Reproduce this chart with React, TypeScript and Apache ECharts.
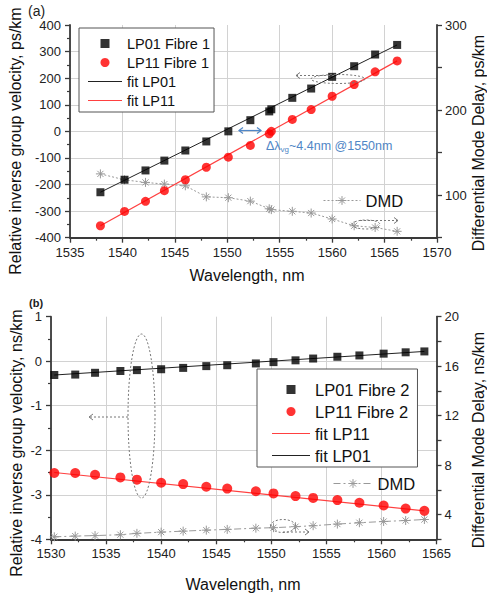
import React, { useEffect, useRef } from "react";
import * as echarts from "echarts";

// ---------- Panel (a) data ----------
const wavelengthA = [1537.9, 1540.2, 1542.2, 1544.0, 1546.0, 1548.0, 1550.1, 1552.2, 1554.0, 1554.2, 1556.2, 1558.0, 1560.0, 1562.1, 1564.1, 1566.2];
const lp01FibreA = [-229, -182, -147, -110, -72, -38, 0, 42, 75, 83, 126, 161, 205, 245, 289, 325];
const lp11FibreA = [-355, -301, -263, -223, -182, -135, -97, -53, -9, 0, 45, 82, 132, 176, 224, 265];
const dmdA = [125, 118, 115, 113, 111, 98, 97, 93, 84, 83, 81, 79, 72, 64, 62, 57.5];
const fitLP01A = [[1537.9, -229], [1566.2, 325]];
const fitLP11A = [[1537.9, -355], [1566.2, 265]];

// ---------- Panel (b) data ----------
const wavelengthB = [1530.3, 1532.2, 1534.0, 1536.3, 1537.8, 1540.0, 1542.0, 1544.1, 1546.0, 1548.6, 1550.2, 1552.2, 1553.8, 1556.0, 1558.0, 1560.2, 1562.2, 1563.9];
const lp01FibreB = [-0.31, -0.30, -0.26, -0.22, -0.20, -0.18, -0.15, -0.11, -0.09, -0.05, -0.02, 0.02, 0.06, 0.10, 0.13, 0.17, 0.20, 0.22];
const lp11FibreB = [-2.51, -2.51, -2.55, -2.61, -2.66, -2.73, -2.76, -2.82, -2.86, -2.92, -2.97, -3.03, -3.07, -3.12, -3.18, -3.24, -3.31, -3.36];
const dmdB = [2.2, 2.26, 2.3, 2.37, 2.48, 2.58, 2.66, 2.74, 2.8, 2.9, 2.94, 3.02, 3.1, 3.23, 3.34, 3.44, 3.52, 3.6];
const fitLP01B = [[1530.3, -0.31], [1563.9, 0.22]];
const fitLP11B = [[1530.3, -2.5], [1563.9, -3.36]];

const pairs = (xs: number[], ys: number[]) => xs.map((x, i) => [x, ys[i]]);

const FONT = "'Liberation Sans', Arial, Helvetica, sans-serif";
const AXIS_C = "#3a3a3a";
const ASTERISK = "path://M0,5L10,5M5,0L5,10M1.6,1.6L8.4,8.4M8.4,1.6L1.6,8.4";
const SQUARE = "path://M0,0L1,0L1,1L0,1Z";
const BAR = "path://M0,0L100,0L100,3L0,3Z";

const axisLine = { show: true, onZero: false, lineStyle: { color: AXIS_C, width: 1.8 } };
const axisTick = { show: true, inside: false, length: 5, lineStyle: { color: AXIS_C, width: 1.3 } };
const minorTick = { show: true, splitNumber: 2, length: 3, lineStyle: { color: AXIS_C, width: 1.2 } };
const splitLine = { show: true, showMaxLine: false, lineStyle: { color: "#d2d2d2", width: 1 } };
const label = { fontSize: 13, color: "#222", fontFamily: FONT, margin: 8, formatter: (v: number) => String(v) };

const dotted = { stroke: "#777", lineWidth: 1, lineDash: [2, 2], fill: "none" };
const solidArrow = { stroke: "#777", lineWidth: 1, fill: "none" };
const BLUE = "#4f86c6";

export default function App() {
  const ref = useRef<HTMLDivElement>(null);
  useEffect(() => {
    const chart = echarts.init(ref.current as HTMLDivElement, null, { renderer: "svg" });
    const option: any = {
      animation: false,
      backgroundColor: "#fff",
      textStyle: { fontFamily: FONT },
      grid: [
        { left: 70, top: 25, width: 367, height: 212.7, outerBoundsMode: "none", containLabel: false },
        { left: 51, top: 316.7, width: 385.5, height: 222.6, outerBoundsMode: "none", containLabel: false },
      ],
      xAxis: [
        { type: "value", gridIndex: 0, min: 1535, max: 1570, interval: 5, axisLine, axisTick, minorTick, splitLine, axisLabel: label },
        { type: "value", gridIndex: 1, min: 1530, max: 1565, interval: 5, axisLine, axisTick, minorTick, splitLine, axisLabel: label },
      ],
      yAxis: [
        { type: "value", gridIndex: 0, position: "left", min: -400, max: 400, interval: 100, axisLine, axisTick, minorTick, splitLine, axisLabel: { ...label, margin: 9 } },
        {
          type: "value", gridIndex: 0, position: "right", min: 50, max: 300, interval: 50, axisLine, axisTick,
          splitLine: { show: false },
          axisLabel: { ...label, margin: 8, formatter: (v: number) => (v % 100 === 0 ? String(v) : "") },
        },
        { type: "value", gridIndex: 1, position: "left", min: -4, max: 1, interval: 1, axisLine, axisTick, minorTick, splitLine, axisLabel: { ...label, margin: 9 } },
        {
          type: "value", gridIndex: 1, position: "right", min: 2, max: 20, interval: 2, axisLine, axisTick,
          splitLine: { show: false },
          axisLabel: { ...label, margin: 8, formatter: (v: number) => (v % 4 === 0 ? String(v) : "") },
        },
      ],
      legend: [
        {
          orient: "vertical", left: 79, top: 28, selectedMode: false,
          backgroundColor: "#fff", borderColor: "#555", borderWidth: 1,
          padding: [8, 4, 4, 9], itemWidth: 34, itemHeight: 9, itemGap: 4,
          textStyle: { fontSize: 14.5, lineHeight: 14, color: "#111", fontFamily: FONT },
          data: [
            { name: "LP01 Fibre 1", icon: SQUARE, itemStyle: { color: "#000", borderWidth: 0 } },
            { name: "LP11 Fibre 1", icon: "circle", itemStyle: { color: "#ff0000", borderWidth: 0 } },
            { name: "fit LP01", icon: BAR, itemStyle: { color: "#222", borderWidth: 0 } },
            { name: "fit LP11", icon: BAR, itemStyle: { color: "#ff4040", borderWidth: 0 } },
          ],
        },
        {
          orient: "vertical", left: 323, top: 192, selectedMode: false, padding: 0,
          itemWidth: 37, itemHeight: 11,
          textStyle: { fontSize: 16.5, color: "#111", fontFamily: FONT },
          itemStyle: { color: "none", borderColor: "#999", borderWidth: 1 },
          lineStyle: { width: 1 },
          data: ["DMD"],
        },
        {
          orient: "vertical", left: 257, top: 369, selectedMode: false,
          backgroundColor: "#fff", borderColor: "#555", borderWidth: 1,
          padding: [12, 8, 3, 15], itemWidth: 38, itemHeight: 9, itemGap: 5,
          textStyle: { fontSize: 16.5, lineHeight: 16, color: "#111", fontFamily: FONT },
          formatter: (n: string) => n.trim(),
          data: [
            { name: "LP01 Fibre 2", icon: SQUARE, itemStyle: { color: "#000", borderWidth: 0 } },
            { name: "LP11 Fibre 2", icon: "circle", itemStyle: { color: "#ff0000", borderWidth: 0 } },
            { name: "fit LP11 ", icon: BAR, itemStyle: { color: "#ff4040", borderWidth: 0 } },
            { name: "fit LP01 ", icon: BAR, itemStyle: { color: "#222", borderWidth: 0 } },
          ],
        },
        {
          orient: "vertical", left: 333, top: 475, selectedMode: false, padding: 0,
          itemWidth: 39, itemHeight: 11,
          textStyle: { fontSize: 16.5, color: "#111", fontFamily: FONT },
          formatter: (n: string) => n.trim(),
          itemStyle: { color: "none", borderColor: "#999", borderWidth: 1 },
          lineStyle: { width: 1 },
          data: ["DMD "],
        },
      ],
      series: [
        // panel (a)
        { name: "fit LP01", type: "line", xAxisIndex: 0, yAxisIndex: 0, symbol: "none", data: fitLP01A, lineStyle: { color: "#222", width: 1 }, itemStyle: { color: "#222" }, z: 3 },
        { name: "fit LP11", type: "line", xAxisIndex: 0, yAxisIndex: 0, symbol: "none", data: fitLP11A, lineStyle: { color: "#ff4040", width: 1.2 }, itemStyle: { color: "#ff4040" }, z: 3 },
        {
          name: "DMD", type: "line", xAxisIndex: 0, yAxisIndex: 1, symbol: ASTERISK, symbolSize: 9,
          data: pairs(wavelengthA, dmdA),
          lineStyle: { color: "#999", width: 1, type: [2, 2] },
          itemStyle: { color: "none", borderColor: "#999", borderWidth: 1 }, z: 2,
        },
        { name: "LP01 Fibre 1", type: "scatter", xAxisIndex: 0, yAxisIndex: 0, symbol: "rect", symbolSize: 8, data: pairs(wavelengthA, lp01FibreA), itemStyle: { color: "#000" }, z: 5 },
        { name: "LP11 Fibre 1", type: "scatter", xAxisIndex: 0, yAxisIndex: 0, symbol: "circle", symbolSize: 9, data: pairs(wavelengthA, lp11FibreA), itemStyle: { color: "#ff0000" }, z: 5 },
        // panel (b)
        { name: "fit LP01 ", type: "line", xAxisIndex: 1, yAxisIndex: 2, symbol: "none", data: fitLP01B, lineStyle: { color: "#222", width: 1 }, itemStyle: { color: "#222" }, z: 3 },
        { name: "fit LP11 ", type: "line", xAxisIndex: 1, yAxisIndex: 2, symbol: "none", data: fitLP11B, lineStyle: { color: "#ff4040", width: 1.2 }, itemStyle: { color: "#ff4040" }, z: 3 },
        {
          name: "DMD ", type: "line", xAxisIndex: 1, yAxisIndex: 3, symbol: ASTERISK, symbolSize: 9,
          data: pairs(wavelengthB, dmdB),
          lineStyle: { color: "#999", width: 1, type: [7, 3, 2, 3] },
          itemStyle: { color: "none", borderColor: "#999", borderWidth: 1 }, z: 2,
        },
        { name: "LP01 Fibre 2", type: "scatter", xAxisIndex: 1, yAxisIndex: 2, symbol: "rect", symbolSize: 8, data: pairs(wavelengthB, lp01FibreB), itemStyle: { color: "#000" }, z: 5 },
        { name: "LP11 Fibre 2", type: "scatter", xAxisIndex: 1, yAxisIndex: 2, symbol: "circle", symbolSize: 10, data: pairs(wavelengthB, lp11FibreB), itemStyle: { color: "#ff0000" }, z: 5 },
      ],
      graphic: [
        // panel tags
        { type: "text", x: 28, y: 4, style: { text: "(a)", fontSize: 14, fontFamily: FONT, fill: "#222" }, z: 10 },
        { type: "text", x: 29, y: 297, style: { text: "(b)", fontSize: 11, fontWeight: "bold", fontFamily: FONT, fill: "#222" }, z: 10 },
        // axis titles
        { type: "text", x: 15, y: 141, rotation: Math.PI / 2, style: { text: "Relative inverse group velocity, ps/km", fontSize: 16, fontFamily: FONT, fill: "#111", align: "center", verticalAlign: "middle", textAlign: "center", textVerticalAlign: "middle" } },
        { type: "text", x: 478, y: 143, rotation: Math.PI / 2, style: { text: "Differential Mode Delay, ps/km", fontSize: 16, fontFamily: FONT, fill: "#111", align: "center", verticalAlign: "middle", textAlign: "center", textVerticalAlign: "middle" } },
        { type: "text", x: 247, y: 275, style: { text: "Wavelength, nm", fontSize: 16, fontFamily: FONT, fill: "#111", align: "center", verticalAlign: "middle", textAlign: "center", textVerticalAlign: "middle" } },
        { type: "text", x: 16, y: 443, rotation: Math.PI / 2, style: { text: "Relative inverse group velocity, ns/km", fontSize: 16, fontFamily: FONT, fill: "#111", align: "center", verticalAlign: "middle", textAlign: "center", textVerticalAlign: "middle" } },
        { type: "text", x: 478, y: 440, rotation: Math.PI / 2, style: { text: "Differential Mode Delay, ns/km", fontSize: 16, fontFamily: FONT, fill: "#111", align: "center", verticalAlign: "middle", textAlign: "center", textVerticalAlign: "middle" } },
        { type: "text", x: 243, y: 584, style: { text: "Wavelength, nm", fontSize: 16, fontFamily: FONT, fill: "#111", align: "center", verticalAlign: "middle", textAlign: "center", textVerticalAlign: "middle" } },
        // (a) annotation: delta lambda
        { type: "line", shape: { x1: 239, y1: 130.5, x2: 261, y2: 130.5 }, style: { stroke: BLUE, lineWidth: 1.2 }, z: 10 },
        { type: "polyline", shape: { points: [[243, 127.5], [239, 130.5], [243, 133.5]] }, style: { stroke: BLUE, lineWidth: 1.2, fill: "none" }, z: 10 },
        { type: "polyline", shape: { points: [[257, 127.5], [261, 130.5], [257, 133.5]] }, style: { stroke: BLUE, lineWidth: 1.2, fill: "none" }, z: 10 },
        {
          type: "text", x: 266, y: 146, z: 10,
          style: {
            text: "{a|Δλ}{s|vg}{a|~4.4nm @1550nm}", verticalAlign: "middle", textVerticalAlign: "middle",
            rich: {
              a: { fontSize: 12.5, fontFamily: FONT, fill: BLUE, color: BLUE, lineHeight: 14 },
              s: { fontSize: 8, fontFamily: FONT, fill: BLUE, color: BLUE, lineHeight: 14, verticalAlign: "bottom", padding: [6, 0, 0, 0] },
            },
          },
        },
        // (a) dotted arrows
        { type: "ellipse", shape: { cx: 338, cy: 79, rx: 27, ry: 4.5 }, style: dotted, z: 9 },
        { type: "line", shape: { x1: 334, y1: 75.5, x2: 296, y2: 75.5 }, style: dotted, z: 9 },
        { type: "polyline", shape: { points: [[300, 72.5], [296, 75.5], [300, 78.5]] }, style: solidArrow, z: 9 },
        { type: "ellipse", shape: { cx: 366, cy: 224.5, rx: 14, ry: 4.5 }, style: dotted, z: 9 },
        { type: "line", shape: { x1: 360, y1: 220.5, x2: 398, y2: 220.5 }, style: dotted, z: 9 },
        { type: "polyline", shape: { points: [[394, 217.5], [398, 220.5], [394, 223.5]] }, style: solidArrow, z: 9 },
        // (b) dotted ellipse + arrows
        { type: "ellipse", shape: { cx: 141.5, cy: 416, rx: 13.5, ry: 82 }, style: dotted, z: 9 },
        { type: "line", shape: { x1: 128, y1: 417, x2: 89, y2: 417 }, style: dotted, z: 9 },
        { type: "polyline", shape: { points: [[93, 414], [89, 417], [93, 420]] }, style: solidArrow, z: 9 },
        { type: "ellipse", shape: { cx: 283, cy: 526, rx: 12.5, ry: 6.5 }, style: dotted, z: 9 },
        { type: "line", shape: { x1: 283, y1: 532, x2: 309, y2: 532 }, style: dotted, z: 9 },
        { type: "polyline", shape: { points: [[305, 529], [309, 532], [305, 535]] }, style: solidArrow, z: 9 },
      ],
    };
    chart.setOption(option);
    return () => chart.dispose();
  }, []);
  return (
    <div
      ref={ref}
      style={{ position: "absolute", left: 0, top: 0, width: 487, height: 597, background: "#fff" }}
    />
  );
}
